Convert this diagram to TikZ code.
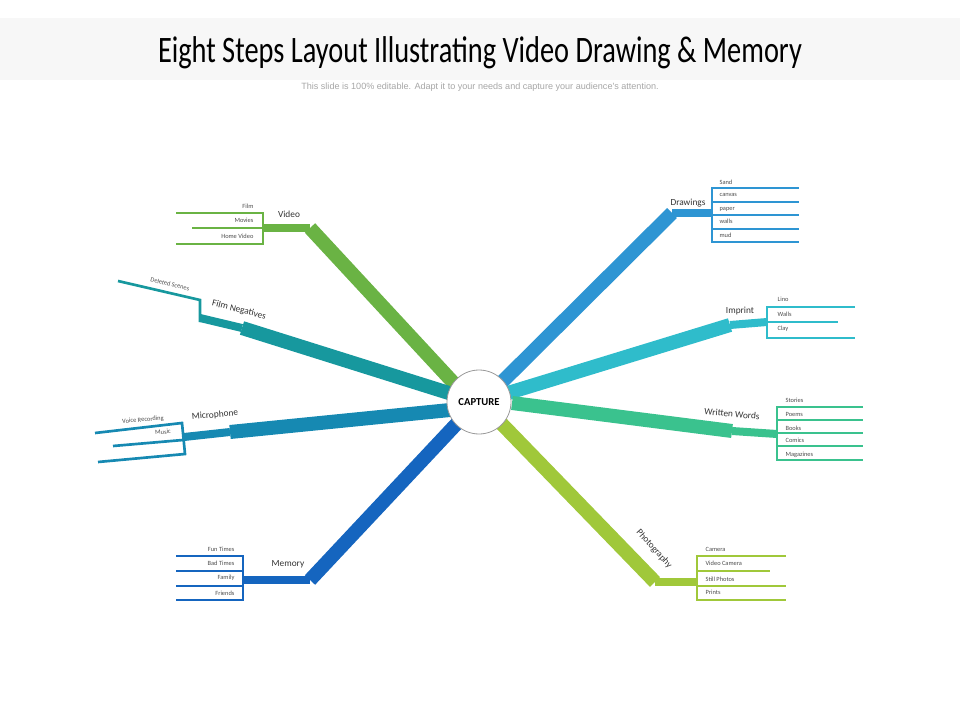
\documentclass[tikz,border=0pt]{standalone}
\usepackage{fontspec}
\setmainfont{Carlito}
\newfontfamily\subfont{Liberation Sans}
\usetikzlibrary{positioning}
\definecolor{cvideo}{HTML}{6AB344}
\definecolor{cfilm}{HTML}{17989E}
\definecolor{cmic}{HTML}{1689B2}
\definecolor{cmem}{HTML}{1565BF}
\definecolor{cdraw}{HTML}{2E95D3}
\definecolor{cimp}{HTML}{2FBCCB}
\definecolor{cword}{HTML}{3AC28E}
\definecolor{cphoto}{HTML}{A0C83A}
\tikzset{
  trunk/.style={line width=10.5pt},
  twig/.style={line width=6pt},
  leaf/.style={line width=2pt},
  bname/.style={font=\fontsize{7}{8}\selectfont, text=black!80, inner sep=1pt},
  lname/.style={font=\fontsize{4.8}{5}\selectfont, text=black!70, inner sep=1pt}
}
\begin{document}
\begin{tikzpicture}[x=0.75pt,y=-0.75pt]
  \useasboundingbox (0,0) rectangle (960,720);
  % header band
  \fill[black!3] (0,18) rectangle (960,80);
  \node (title) at (480,53) {\fontsize{28}{30}\selectfont\addfontfeatures{FakeStretch=0.76}Eight Steps Layout Illustrating Video Drawing \& Memory};
  \node[font=\subfont\fontsize{6.8}{7}\selectfont, text=black!35] (sub) at (480,87) {This slide is 100\% editable. Adapt it to your needs and capture your audience's attention.};
  % Video
  \coordinate (vid) at (310,228);
  \draw[cvideo,trunk] (462,392) -- (vid);
  \draw[cvideo,twig] (vid) -- (263,228);
  \draw[cvideo,leaf] (176,213) -| (263,244) -- (176,244);
  \draw[cvideo,leaf] (192,228) -- (263,228);
  \node[bname] at (289,214) {Video};
  \node[lname,anchor=east] at (255,206) {Film};
  \node[lname,anchor=east] at (255,220) {Movies};
  \node[lname,anchor=east] at (255,236) {Home Video};
  % Film Negatives
  \coordinate (neg) at (242,328);
  \draw[cfilm,trunk] (452,394) -- (neg);
  \draw[cfilm,twig] (neg) -- (200,318);
  \draw[cfilm,leaf] (200,322) -- (200,300) -- (118,281);
  \node[lname,rotate=-14] at (170,284) {Deleted Scenes};
  \node[bname,rotate=-14] at (239,310) {Film Negatives};
  % Microphone
  \coordinate (mic) at (230,432);
  \draw[cmic,trunk] (450,410) -- (mic);
  \draw[cmic,twig] (mic) -- (184,437);
  \draw[cmic,leaf] (95,433) -- (182,423) -- (185,454) -- (98,462);
  \draw[cmic,leaf] (113,446) -- (183,440);
  \node[bname,rotate=5] at (215,415) {Microphone};
  \node[lname,rotate=5] at (143,420) {Voice Recording};
  \node[lname,rotate=5] at (163,432) {Music};
  % Memory
  \coordinate (mem) at (310,580);
  \draw[cmem,trunk] (462,418) -- (mem);
  \draw[cmem,twig] (mem) -- (243,580);
  \draw[cmem,leaf] (176,556) -| (243,600) -- (176,600);
  \draw[cmem,leaf] (176,571) -- (243,571) (176,586) -- (243,586);
  \node[bname] at (288,564) {Memory};
  \node[lname,anchor=east] at (236,549) {Fun Times};
  \node[lname,anchor=east] at (236,563) {Bad Times};
  \node[lname,anchor=east] at (236,578) {Family};
  \node[lname,anchor=east] at (236,593) {Friends};
  % Drawings
  \coordinate (drw) at (672,213);
  \draw[cdraw,trunk] (496,388) -- (drw);
  \draw[cdraw,twig] (drw) -- (712,213);
  \draw[cdraw,leaf] (799,188) -| (712,242) -- (799,242);
  \foreach \yy in {202,215,229} \draw[cdraw,leaf] (712,\yy) -- (799,\yy);
  \node[bname] at (688,203) {Drawings};
  \foreach \t/\yy in {Sand/182,canvas/195,paper/209,walls/221,mud/235}
    \node[lname,anchor=west] at (718,\yy) {\t};
  % Imprint
  \coordinate (imp) at (730,325);
  \draw[cimp,trunk] (508,393) -- (imp);
  \draw[cimp,twig] (imp) -- (767,322);
  \draw[cimp,leaf] (855,307) -| (767,338) -- (855,338);
  \draw[cimp,leaf] (767,322) -- (838,322);
  \node[bname] at (740,311) {Imprint};
  \foreach \t/\yy in {Lino/299,Walls/314,Clay/329}
    \node[lname,anchor=west] at (776,\yy) {\t};
  % Written Words
  \coordinate (wrd) at (732,431);
  \draw[cword,trunk] (512,403) -- (wrd);
  \draw[cword,twig] (wrd) -- (777,434);
  \draw[cword,leaf] (863,407) -| (777,460) -- (863,460);
  \foreach \yy in {420,433,446} \draw[cword,leaf] (777,\yy) -- (863,\yy);
  \node[bname,rotate=-5] at (732,414) {Written Words};
  \foreach \t/\yy in {Stories/400,Poems/414,Books/428,Comics/440,Magazines/455}
    \node[lname,anchor=west] at (784,\yy) {\t};
  % Photography
  \coordinate (pho) at (655,582);
  \draw[cphoto,trunk] (498,420) -- (pho);
  \draw[cphoto,twig] (pho) -- (697,582);
  \draw[cphoto,leaf] (786,556) -| (697,600) -- (786,600);
  \draw[cphoto,leaf] (697,571) -- (770,571) (697,586) -- (786,586);
  \node[bname,rotate=-48] at (654,549) {Photography};
  \foreach \t/\yy in {Camera/549,Video Camera/563,Still Photos/579,Prints/592}
    \node[lname,anchor=west] at (704,\yy) {\t};
  % centre
  \node[circle,draw=black!40,fill=white,line width=0.6pt,minimum size=48pt,
        font=\fontsize{8}{9}\selectfont\bfseries] (cap) at (479,402) {CAPTURE};
\end{tikzpicture}
\end{document}
